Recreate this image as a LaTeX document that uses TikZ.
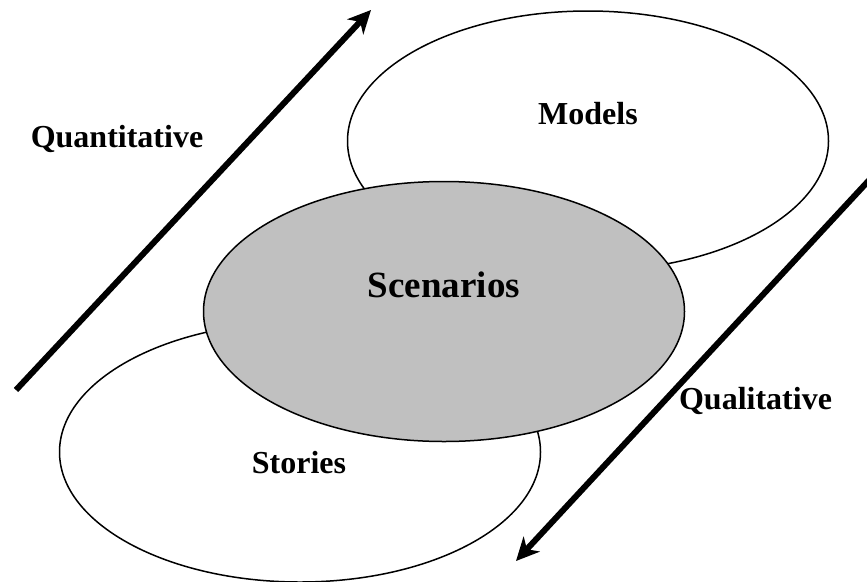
\documentclass[tikz,border=0pt]{standalone}
\usepackage{fontspec}
\setmainfont{Liberation Serif}
\usetikzlibrary{shapes.geometric,arrows.meta}
\definecolor{scengray}{HTML}{C0C0C0}
\begin{document}
\begin{tikzpicture}[x = 1pt, y = -1pt,
                    area/.style = {ellipse, draw, line width = 1.5pt, inner sep = 0pt,
                                   minimum width = 481pt, minimum height = 260pt},
                    word/.style = {anchor = base, font = \fontsize{32}{38}\selectfont\bfseries},
                    trend/.style = {line width = 6pt, -{Stealth[length = 23pt, width = 22pt, inset = 7pt]}}]
                    \useasboundingbox (0, 0) rectangle (867, 581);
                    
                    \node[area, fill = white]    (models)    at (588, 141)   {};
                    \node[area, fill = white]    (stories)   at (300, 452)   {};
                    \node[area, fill = scengray] (scenarios) at (444, 311.5) {};
                    
                    \node[word] (modelslbl)    at (588, 124)   {Models};
                    \node[word] (storieslbl)   at (299, 473)   {Stories};
                    \node[word, font = \fontsize{37}{44}\selectfont\bfseries]
                                (scenarioslbl) at (444, 297)   {Scenarios};
                    \node[word] (quantlbl)     at (117, 147)   {Quantitative};
                    \node[word] (quallbl)      at (755.5, 409) {Qualitative};
                    
                    \coordinate (quantlow)  at (16, 390);
                    \coordinate (quanthigh) at (371, 10);
                    \coordinate (qualhigh)  at (872, 177);
                    \coordinate (quallow)   at (516, 561);
                    
                    \draw[trend] (quantlow) -- (quanthigh);
                    \draw[trend] (qualhigh) -- (quallow);
                \end{tikzpicture}
\end{document}
